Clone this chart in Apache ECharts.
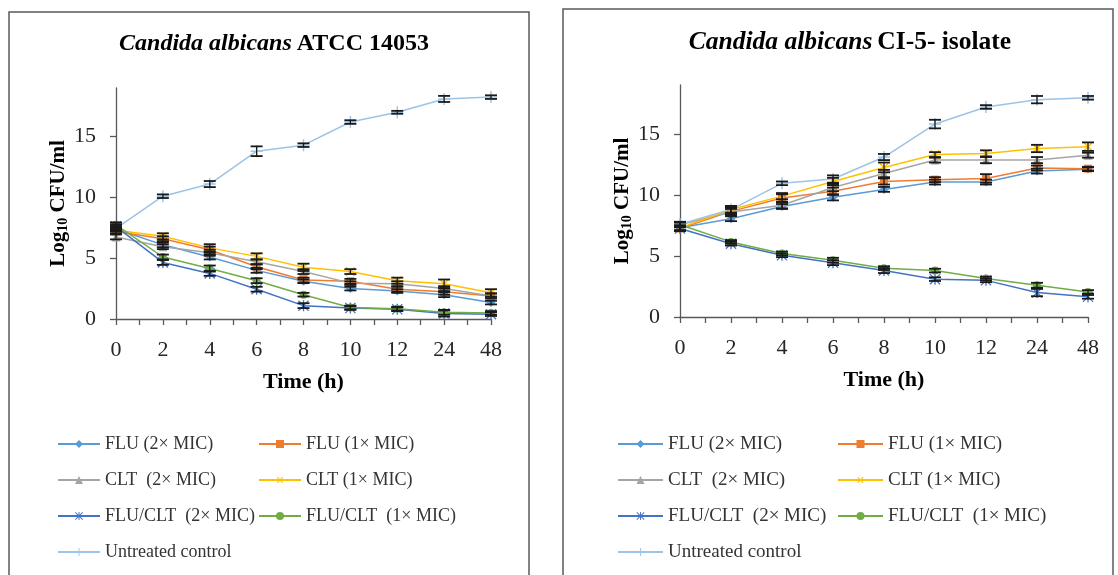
<!DOCTYPE html>
<html><head><meta charset="utf-8">
<script src="https://cdn.jsdelivr.net/npm/echarts@6/dist/echarts.min.js"></script>
<style>html,body{margin:0;padding:0;background:#fff}#c{width:1118px;height:575px}</style>
</head><body><div id="c"></div>
<script>
// ---------- data ----------
const timeLabels = ['0','2','4','6','8','10','12','24','48'];
const seriesNames = ['FLU (2× MIC)','FLU (1× MIC)','CLT  (2× MIC)','CLT (1× MIC)','FLU/CLT  (2× MIC)','FLU/CLT  (1× MIC)','Untreated control'];
const yTicks = [0,5,10,15];

// Candida albicans ATCC 14053
const atccFlu2    = [7.4, 6.1, 5.1, 4.0, 3.1, 2.5, 2.3, 2.0, 1.35];
const atccFlu1    = [7.2, 6.6, 5.7, 4.3, 3.2, 3.1, 2.45, 2.25, 1.9];
const atccClt2    = [6.75, 5.95, 5.45, 4.7, 3.9, 2.95, 2.9, 2.5, 1.9];
const atccClt1    = [7.3, 6.8, 5.85, 5.15, 4.25, 3.9, 3.15, 2.9, 2.15];
const atccCombo2  = [7.6, 4.65, 3.75, 2.45, 1.1, 0.9, 0.8, 0.45, 0.4];
const atccCombo1  = [7.75, 5.1, 4.15, 3.15, 2.0, 0.95, 0.85, 0.55, 0.5];
const atccControl = [7.45, 10.1, 11.1, 13.8, 14.3, 16.2, 17.0, 18.1, 18.25];

const atccErr = [
  [0.2, 0.2, 0.2, 0.2, 0.15, 0.15, 0.15, 0.2, 0.15],
  [0.2, 0.2, 0.25, 0.2, 0.2, 0.2, 0.2, 0.25, 0.2],
  [0.2, 0.2, 0.25, 0.2, 0.2, 0.15, 0.2, 0.2, 0.2],
  [0.25, 0.25, 0.3, 0.25, 0.3, 0.2, 0.25, 0.35, 0.3],
  [0.2, 0.2, 0.2, 0.2, 0.2, 0.15, 0.15, 0.25, 0.15],
  [0.2, 0.2, 0.25, 0.2, 0.15, 0.15, 0.15, 0.2, 0.15],
  [0.2, 0.15, 0.25, 0.4, 0.15, 0.15, 0.12, 0.25, 0.15]
];

// Candida albicans CI-5- isolate
const ci5Flu2    = [7.3, 8.05, 9.05, 9.8, 10.45, 11.05, 11.05, 11.95, 12.1];
const ci5Flu1    = [7.25, 8.65, 9.75, 10.3, 11.1, 11.25, 11.35, 12.2, 12.15];
const ci5Clt2    = [7.55, 8.6, 9.15, 10.6, 11.75, 12.85, 12.85, 12.85, 13.25];
const ci5Clt1    = [7.3, 8.8, 9.9, 11.1, 12.25, 13.3, 13.4, 13.8, 13.95];
const ci5Combo2  = [7.25, 6.0, 5.05, 4.45, 3.8, 3.1, 3.0, 2.0, 1.65];
const ci5Combo1  = [7.55, 6.15, 5.2, 4.65, 4.0, 3.8, 3.15, 2.6, 2.05];
const ci5Control = [7.6, 8.8, 10.95, 11.3, 13.1, 15.8, 17.2, 17.8, 17.95];

const ci5Err = [
  [0.2, 0.2, 0.2, 0.25, 0.2, 0.2, 0.2, 0.2, 0.15],
  [0.2, 0.3, 0.3, 0.3, 0.25, 0.2, 0.35, 0.2, 0.15],
  [0.2, 0.25, 0.25, 0.3, 0.3, 0.2, 0.25, 0.25, 0.2],
  [0.2, 0.3, 0.25, 0.3, 0.4, 0.2, 0.25, 0.3, 0.35],
  [0.2, 0.15, 0.15, 0.2, 0.2, 0.15, 0.15, 0.3, 0.15],
  [0.2, 0.15, 0.15, 0.2, 0.15, 0.15, 0.15, 0.2, 0.15],
  [0.2, 0.25, 0.15, 0.3, 0.25, 0.35, 0.15, 0.3, 0.15]
];

// ---------- styles ----------
const colors = ['#5B9BD5','#ED7D31','#A5A5A5','#FFC000','#4472C4','#70AD47','#9DC3E6'];
const plusPath = 'path://M4.4,0 L5.6,0 L5.6,4.4 L10,4.4 L10,5.6 L5.6,5.6 L5.6,10 L4.4,10 L4.4,5.6 L0,5.6 L0,4.4 L4.4,4.4 Z';
const starPath = 'path://M4.4,0 L5.6,0 L5.6,10 L4.4,10 Z M0,0.8 L0.8,0 L10,9.2 L9.2,10 Z M9.2,0 L10,0.8 L0.8,10 L0,9.2 Z';
const symbols = ['diamond','rect','triangle',plusPath,starPath,'circle',plusPath];
const symbolSizes = [9,8,9,12,11,8,12];
const symbolRotates = [0,0,0,45,0,0,0];
const serif = 'Liberation Serif';
const axisColor = '#595959';

const chart = echarts.init(document.getElementById('c'), null, {renderer:'canvas'});

function lineSeries(vals, k, ax) {
  return {
    name: seriesNames[k], type: 'line', xAxisIndex: ax, yAxisIndex: ax,
    data: vals.map((v, i) => [i, v]),
    symbol: symbols[k], symbolSize: symbolSizes[k], symbolRotate: symbolRotates[k],
    showSymbol: true, z: 2,
    lineStyle: { color: colors[k], width: 1.5 },
    itemStyle: { color: colors[k] },
    emphasis: { disabled: true }
  };
}
function errSeries(vals, errs, ax) {
  return {
    type: 'custom', xAxisIndex: ax, yAxisIndex: ax, silent: true, z: 3,
    data: vals.map((v, i) => [i, v, errs[i]]),
    encode: { x: 0, y: 1 },
    renderItem: (params, api) => {
      const x = api.value(0), v = api.value(1), e = api.value(2);
      const t = api.coord([x, v + e]), b = api.coord([x, v - e]);
      const w = 6, st = { stroke: '#1a1a1a', lineWidth: 1.3 };
      return { type: 'group', children: [
        { type: 'line', shape: { x1: t[0], y1: t[1], x2: b[0], y2: b[1] }, style: st },
        { type: 'line', shape: { x1: t[0] - w, y1: t[1], x2: t[0] + w, y2: t[1] }, style: { stroke: '#1a1a1a', lineWidth: 1.8 } },
        { type: 'line', shape: { x1: b[0] - w, y1: b[1], x2: b[0] + w, y2: b[1] }, style: { stroke: '#1a1a1a', lineWidth: 1.8 } }
      ]};
    }
  };
}

function xAxis(gi) {
  const half = [];
  for (let i = 0; i <= 16; i++) half.push(i / 2);
  return {
    type: 'value', gridIndex: gi, min: 0, max: 8,
    axisLine: { show: true, lineStyle: { color: axisColor, width: 1.3 } },
    axisTick: { show: true, length: 6, customValues: half, lineStyle: { color: axisColor, width: 1.3 } },
    axisLabel: { customValues: [0,1,2,3,4,5,6,7,8], formatter: v => timeLabels[Math.round(v)], fontFamily: serif, fontSize: 22, color: '#262626', margin: 20 },
    splitLine: { show: false },
    name: 'Time (h)', nameLocation: 'middle', nameGap: 52,
    nameTextStyle: { fontFamily: serif, fontSize: 22, fontWeight: 'bold', color: '#000' }
  };
}
function yAxis(gi) {
  return {
    type: 'value', gridIndex: gi, min: 0, max: 19,
    axisLine: { show: true, lineStyle: { color: axisColor, width: 1.3 } },
    axisTick: { show: true, length: 6, customValues: yTicks, lineStyle: { color: axisColor, width: 1.3 } },
    axisLabel: { customValues: yTicks, fontFamily: serif, fontSize: 22, color: '#262626', margin: 20 },
    splitLine: { show: false },
    name: '{a|Log}{s|10}{a| CFU/ml}', nameLocation: 'middle', nameGap: 44, nameRotate: 90,
    nameTextStyle: { rich: {
      a: { fontFamily: serif, fontSize: 21, fontWeight: 'bold', color: '#000' },
      s: { fontFamily: serif, fontSize: 14, fontWeight: 'bold', color: '#000', verticalAlign: 'bottom', padding: [10, 0, 0, 0] }
    } }
  };
}

function legend(names, left, fs, iw) {
  return { data: names, orient: 'vertical', left: left, top: 434, itemGap: 16, padding: 0,
    itemWidth: iw, itemHeight: 10, selectedMode: false,
    textStyle: { fontFamily: serif, fontSize: fs, color: '#333', lineHeight: 20 } };
}

function titleRich(fs) {
  return {
    i: { fontFamily: serif, fontSize: fs, fontStyle: 'italic', fontWeight: 'bold', color: '#000' },
    b: { fontFamily: serif, fontSize: fs, fontWeight: 'bold', color: '#000' }
  };
}

const series = [];
[atccFlu2, atccFlu1, atccClt2, atccClt1, atccCombo2, atccCombo1, atccControl].forEach((vals, k) => {
  series.push(lineSeries(vals, k, 0));
  series.push(errSeries(vals, atccErr[k], 0));
});
[ci5Flu2, ci5Flu1, ci5Clt2, ci5Clt1, ci5Combo2, ci5Combo1, ci5Control].forEach((vals, k) => {
  series.push(lineSeries(vals, k, 1));
  series.push(errSeries(vals, ci5Err[k], 1));
});

chart.setOption({
  animation: false,
  backgroundColor: '#fff',
  title: [
    { text: '{i|Candida albicans} {b|ATCC 14053}', left: 269, textAlign: 'center', top: 27, textStyle: { rich: titleRich(24) } },
    { text: '{i|Candida albicans} {b|CI-5- isolate}', left: 845, textAlign: 'center', top: 24, textStyle: { rich: titleRich(25.5) } }
  ],
  graphic: [
    { type: 'rect', shape: { x: 9, y: 12, width: 520, height: 580 }, style: { fill: 'none', stroke: '#595959', lineWidth: 1.5 }, silent: true },
    { type: 'rect', shape: { x: 563, y: 9, width: 550, height: 590 }, style: { fill: 'none', stroke: '#595959', lineWidth: 1.5 }, silent: true }
  ],
  grid: [
    { left: 116, top: 88, width: 375, height: 231 },
    { left: 680, top: 85, width: 408, height: 232 }
  ],
  xAxis: [xAxis(0), xAxis(1)],
  yAxis: [yAxis(0), yAxis(1)],
  legend: [
    legend([seriesNames[0], seriesNames[2], seriesNames[4], seriesNames[6]], 57, 18, 42),
    legend([seriesNames[1], seriesNames[3], seriesNames[5]], 258, 18, 42),
    legend([seriesNames[0], seriesNames[2], seriesNames[4], seriesNames[6]], 617, 19, 45),
    legend([seriesNames[1], seriesNames[3], seriesNames[5]], 837, 19, 45)
  ],
  series: series
});
</script>
</body></html>
